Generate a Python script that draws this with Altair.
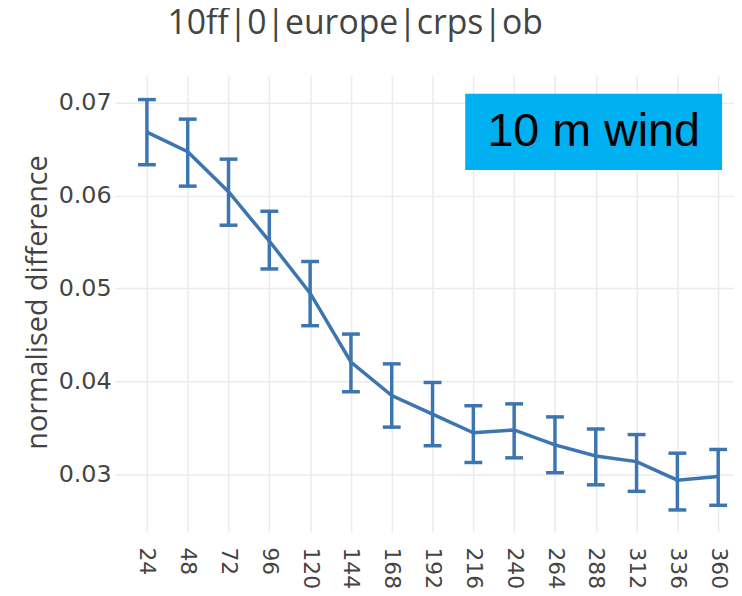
import altair as alt
import pandas as pd

lead = [24, 48, 72, 96, 120, 144, 168, 192, 216, 240, 264, 288, 312, 336, 360]
mean = [0.0668, 0.0647, 0.0604, 0.0551, 0.0495, 0.0421, 0.0385, 0.0365, 0.0345,
        0.0348, 0.0332, 0.0320, 0.0314, 0.0294, 0.0298]
lo = [0.0633, 0.0610, 0.0568, 0.0521, 0.0460, 0.0389, 0.0351, 0.0331, 0.0313,
      0.0318, 0.0302, 0.0289, 0.0282, 0.0262, 0.0267]
hi = [0.0703, 0.0682, 0.0639, 0.0583, 0.0529, 0.0451, 0.0419, 0.0399, 0.0374,
      0.0376, 0.0362, 0.0349, 0.0343, 0.0323, 0.0327]
yticks = [0.03, 0.04, 0.05, 0.06, 0.07]

df = pd.DataFrame({"lead": lead, "mean": mean, "lo": lo, "hi": hi})

COLOR = "#3c75af"
FONT = "Open Sans"
TICKFONT = "DejaVu Sans"

xscale = alt.Scale(domain=[5.3, 369.3], nice=False, zero=False)
yscale = alt.Scale(domain=[0.02382, 0.07285], nice=False, zero=False)

xax = alt.Axis(values=lead, labelAngle=90, labelAlign="left", labelBaseline="middle",
               labelPadding=15, ticks=False, domain=False, grid=True,
               gridColor="#ebebeb", gridWidth=1.5, labelFont=TICKFONT, labelFontSize=22,
               labelColor="#444", title=None, labelOverlap=False)
yax = alt.Axis(values=yticks, format=".2f", ticks=False, domain=False, grid=True,
               gridColor="#ebebeb", gridWidth=1.5, labelFont=TICKFONT, labelFontSize=24,
               labelColor="#444", labelPadding=4, title="normalised difference",
               titleFont=FONT, titleFontSize=29, titleColor="#444", titleFontWeight="normal",
               titleX=-69, titleY=228, titleAlign="center", titleBaseline="alphabetic",
               titleAngle=270)

base = alt.Chart(df)
line = base.mark_line(color=COLOR, strokeWidth=3.5).encode(
    x=alt.X("lead:Q", scale=xscale, axis=xax),
    y=alt.Y("mean:Q", scale=yscale, axis=yax),
)
rules = base.mark_rule(color=COLOR, strokeWidth=3.5).encode(
    x="lead:Q", y="lo:Q", y2="hi:Q"
)
tick_lo = base.mark_tick(color=COLOR, orient="horizontal", size=18, thickness=3.5, opacity=1).encode(
    x="lead:Q", y="lo:Q"
)
tick_hi = base.mark_tick(color=COLOR, orient="horizontal", size=18, thickness=3.5, opacity=1).encode(
    x="lead:Q", y="hi:Q"
)

box = alt.Chart(pd.DataFrame({"label": ["10 m wind"]})).mark_rect(color="#00b0f0").encode(
    x=alt.value(353), x2=alt.value(612), y=alt.value(18), y2=alt.value(95)
)
boxtext = alt.Chart(pd.DataFrame({"label": ["10 m wind"]})).mark_text(
    font="Liberation Sans", fontSize=47, color="black", align="center", baseline="middle"
).encode(text="label:N", x=alt.value(482.5), y=alt.value(57))

chart = alt.layer(line, rules, tick_lo, tick_hi, box, boxtext).properties(
    width=624, height=460,
    autosize=alt.AutoSizeParams(type="none"),
    padding={"left": 108, "top": 66, "right": 0, "bottom": 62},
    title=alt.TitleParams("10ff|0|europe|crps|ob", font=FONT, fontSize=34, color="#444",
                          fontWeight="normal", anchor="middle", dx=-70, offset=8,
                          baseline="alphabetic"),
).configure_view(stroke=None)

chart.save("out.html", embed_options={"renderer": "svg", "actions": False})
